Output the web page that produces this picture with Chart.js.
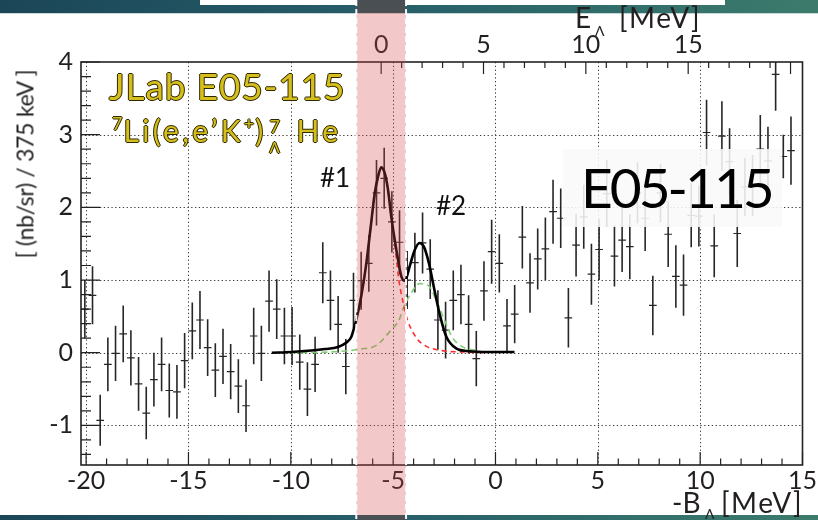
<!DOCTYPE html>
<html>
<head>
<meta charset="utf-8">
<script src="https://cdn.jsdelivr.net/npm/chart.js@4/dist/chart.umd.min.js"></script>
<style>
  html, body { margin: 0; padding: 0; background: #fff; }
  #wrap { position: relative; width: 818px; height: 520px; overflow: hidden;
          font-family: Lato, "Open Sans", sans-serif; color: #231f20; }
  #chart { position: absolute; left: 0; top: 0; z-index: 1; }
  .txt { position: absolute; line-height: 1; white-space: nowrap; z-index: 2; }
  #exp { left: 109px; top: 67px; font-size: 37px; letter-spacing: 0.9px; color: #d6bf1c;
         text-shadow: -1px 0 #2e2800, 1px 0 #2e2800, 0 -1px #2e2800, 0 1px #2e2800; }
  #reaction { left: 112px; top: 112px; font-size: 30px; letter-spacing: 3.3px; color: #d6bf1c;
         text-shadow: -1px 0 #2e2800, 1px 0 #2e2800, 0 -1px #2e2800, 0 1px #2e2800; }
  #reaction .sup { font-size: 18px; position: relative; top: -12px; letter-spacing: 1px; }
  #reaction .stack { display: inline-block; position: relative; width: 19px; height: 30px; }
  #reaction .up { position: absolute; left: 3px; top: 5px; font-size: 18px; line-height: 1; }
  #reaction .dn { position: absolute; left: 3px; top: 28px; font-size: 15px; line-height: 1; }
  #p1 { left: 320px; top: 164px; font-size: 26px; color: #111; }
  #p2 { left: 436px; top: 192px; font-size: 26px; color: #111; }
  #label { position: absolute; left: 563px; top: 149px; width: 219px; height: 78px; z-index: 2;
           background: rgba(249,249,249,0.88); }
  #label span { position: absolute; left: 18px; top: 11px; font-size: 55px; line-height: 1;
                letter-spacing: -3px; color: #000; }
  #ytitle { left: 25px; top: 164px; font-size: 23px; letter-spacing: -0.3px;
            transform: translate(-50%, -50%) rotate(-90deg); }
  #eTitle { left: 575px; top: 3px; font-size: 28px; }
  #eSub { left: 595px; top: 24px; font-size: 14px; }
  #eUnit { left: 619px; top: 3px; font-size: 28px; letter-spacing: 1.5px; }
  #bTitle { left: 672px; top: 488px; font-size: 28px; }
  #bSub { left: 705px; top: 507px; font-size: 14px; z-index: 1; }
  #bUnit { left: 721px; top: 488px; font-size: 28px; letter-spacing: 1.5px; }
</style>
</head>
<body>
<div id="wrap">
  <canvas id="chart" width="818" height="520"></canvas>
  <div class="txt" id="exp">JLab E05-115</div>
  <div class="txt" id="reaction"><span class="sup">7</span>Li(e,e’K<span class="sup">+</span>)<span class="stack"><span class="up">7</span><span class="dn">Λ</span></span> He</div>
  <div class="txt" id="p1">#1</div>
  <div class="txt" id="p2">#2</div>
  <div id="label"><span>E05-115</span></div>
  <div class="txt" id="ytitle">[ (nb/sr) / 375 keV ]</div>
  <div class="txt" id="eTitle">E</div>
  <div class="txt" id="eSub">Λ</div>
  <div class="txt" id="eUnit">[MeV]</div>
  <div class="txt" id="bTitle">-B</div>
  <div class="txt" id="bSub">Λ</div>
  <div class="txt" id="bUnit">[MeV]</div>
</div>
<script>
// Binding energy bins (-B_Lambda, MeV), 375 keV wide
const binCenters = [-20.0625,-19.6875,-19.3125,-18.9375,-18.5625,-18.1875,-17.8125,-17.4375,-17.0625,-16.6875,
  -16.3125,-15.9375,-15.5625,-15.1875,-14.8125,-14.4375,-14.0625,-13.6875,-13.3125,-12.9375,
  -12.5625,-12.1875,-11.8125,-11.4375,-11.0625,-10.6875,-10.3125,-9.9375,-9.5625,-9.1875,
  -8.8125,-8.4375,-8.0625,-7.6875,-7.3125,-6.9375,-6.5625,-6.1875,-5.8125,-5.4375,
  -5.0625,-4.6875,-4.3125,-3.9375,-3.5625,-3.1875,-2.8125,-2.4375,-2.0625,-1.6875,
  -1.3125,-0.9375,-0.5625,-0.1875,0.1875,0.5625,0.9375,1.3125,1.6875,2.0625,
  2.4375,2.8125,3.1875,3.5625,3.9375,4.3125,4.6875,5.0625,5.4375,5.8125,
  6.1875,6.5625,6.9375,7.3125,7.6875,8.0625,8.4375,8.8125,9.1875,9.5625,
  9.9375,10.3125,10.6875,11.0625,11.4375,11.8125,12.1875,12.5625,12.9375,13.3125,
  13.6875,14.0625,14.4375];
const binHalfWidth = 0.1875;

// Cross section per bin, nb/sr / 375 keV
const yields = [0.60,0.79,-0.93,-0.16,-0.01,0.26,-0.07,-0.43,-0.83,-0.37,
  -0.16,-0.52,-0.54,-0.11,0.30,0.45,0.07,-0.24,-0.05,-0.26,
  -0.46,-0.73,0.23,-0.01,0.71,0.60,0.23,0.23,-0.13,-0.50,
  -0.16,1.10,0.72,0.39,-0.19,0.72,0.99,1.23,2.20,2.40,
  1.80,1.52,1.00,1.24,1.51,1.15,0.45,0.31,0.72,0.80,
  0.39,-0.08,0.85,1.39,1.23,0.37,0.53,1.59,0.96,1.29,
  1.43,1.94,1.85,0.48,1.48,1.87,1.08,1.42,2.19,1.33,
  1.55,1.46,2.20,1.85,0.65,2.20,1.63,1.05,0.93,1.89,
  1.88,3.03,1.47,2.98,2.63,1.64,2.28,2.30,2.80,2.64,
  3.83,2.70,2.78];

// Statistical errors
const errors = [0.40,0.40,0.35,0.37,0.38,0.39,0.38,0.37,0.36,0.37,
  0.37,0.37,0.37,0.38,0.39,0.40,0.39,0.37,0.38,0.38,
  0.37,0.36,0.39,0.38,0.42,0.41,0.39,0.40,0.38,0.37,
  0.38,0.42,0.41,0.39,0.38,0.38,0.40,0.39,0.45,0.42,
  0.42,0.44,0.40,0.41,0.42,0.41,0.41,0.39,0.41,0.41,
  0.40,0.38,0.41,0.44,0.40,0.37,0.40,0.43,0.41,0.42,
  0.43,0.44,0.41,0.41,0.43,0.44,0.42,0.42,0.46,0.42,
  0.44,0.45,0.42,0.45,0.41,0.40,0.45,0.43,0.42,0.44,
  0.42,0.45,0.43,0.48,0.46,0.46,0.40,0.42,0.47,0.47,
  0.50,0.30,0.47];

// Total fit
const fitX = [-10.93,-9.97,-9.0,-8.34,-7.69,-7.28,-7.04,-6.91,-6.8,-6.55,-6.31,-6.1,-5.9,-5.74,-5.58,-5.41,-5.25,-5.09,-4.84,-4.6,-4.44,-4.36,-4.2,-3.95,-3.71,-3.5,-3.25,-2.98,-2.7,-2.4,-1.92,-1.27,-0.45,0.93];
const fitY = [0.0,0.01,0.03,0.05,0.08,0.14,0.22,0.34,0.45,0.79,1.23,1.72,2.19,2.42,2.55,2.47,2.24,1.87,1.41,1.05,0.99,1.02,1.18,1.41,1.51,1.46,1.23,0.86,0.5,0.22,0.06,0.02,0.01,0.01];

// Peak #1 component
const peak1X = [-6.8,-6.55,-6.31,-6.1,-5.9,-5.74,-5.58,-5.41,-5.25,-5.09,-4.9,-4.72,-4.52,-4.3,-4.07,-3.8,-3.4,-3.0,-2.4,-1.6,-0.5];
const peak1Y = [0.45,0.79,1.23,1.72,2.19,2.42,2.55,2.47,2.24,1.87,1.45,1.0,0.7,0.45,0.3,0.18,0.09,0.05,0.02,0.01,0.0];

// Peak #2 component
const peak2X = [-9.97,-8.1,-7.12,-6.63,-5.82,-5.17,-4.68,-4.52,-4.03,-3.71,-3.3,-2.89,-2.57,-2.08,-1.6,-0.94,-0.6];
const peak2Y = [0.0,0.01,0.03,0.05,0.1,0.29,0.47,0.6,0.86,0.95,0.93,0.72,0.5,0.2,0.08,0.03,0.01];

// Axis ticks
const bottomTicks = [-20, -15, -10, -5, 0, 5, 10, 15];
const topTicks = [0, 5, 10, 15];
const leftTicks = [-1, 0, 1, 2, 3, 4];
const eShift = 5.585;          // E_Lambda = -B_Lambda + eShift
const gateRange = [-6.8, -4.37]; // highlighted region in -B_Lambda

const xRange = [-20.25, 15];
const yRange = [-1.545, 4];

function pts(xs, ys) { return xs.map((v, i) => ({ x: v, y: ys[i] })); }

const axisFrame = {
  id: 'axisFrame',
  beforeDraw(chart) {
    const { ctx } = chart;
    ctx.save();
    const g = ctx.createLinearGradient(0, 0, 818, 0);
    g.addColorStop(0, '#1b4658');
    g.addColorStop(0.5, '#27606a');
    g.addColorStop(1, '#3c7b6c');
    ctx.fillStyle = g;
    ctx.fillRect(0, 0, 818, 13);
    ctx.fillRect(0, 515, 818, 5);
    ctx.fillStyle = '#c9d6d6';
    ctx.fillRect(0, 13, 818, 1);
    ctx.fillStyle = '#ffffff';
    ctx.fillRect(200, 0, 525, 5);
    ctx.restore();
  },
  beforeDatasetsDraw(chart) {
    const { ctx, chartArea: a, scales: { x, y } } = chart;
    ctx.save();
    ctx.beginPath();
    ctx.rect(a.left, a.top, a.right - a.left, a.bottom - a.top);
    ctx.clip();
    // dotted grid
    ctx.strokeStyle = '#3a3a3a';
    ctx.lineWidth = 1;
    ctx.setLineDash([1.3, 2.5]);
    ctx.beginPath();
    bottomTicks.forEach(v => {
      if (v >= xRange[1]) return;
      const p = Math.round(x.getPixelForValue(v)) + 0.5;
      ctx.moveTo(p, a.top); ctx.lineTo(p, a.bottom);
    });
    leftTicks.forEach(v => {
      if (v >= yRange[1]) return;
      const p = Math.round(y.getPixelForValue(v)) + 0.5;
      ctx.moveTo(a.left, p); ctx.lineTo(a.right, p);
    });
    ctx.stroke();
    ctx.setLineDash([]);
    // error bars with bin-width markers
    ctx.strokeStyle = '#262626';
    binCenters.forEach((c, i) => {
      const px = x.getPixelForValue(c);
      ctx.lineWidth = 1.6;
      ctx.beginPath();
      ctx.moveTo(px, y.getPixelForValue(yields[i] - errors[i]));
      ctx.lineTo(px, y.getPixelForValue(yields[i] + errors[i]));
      ctx.stroke();
      const py = y.getPixelForValue(yields[i]);
      ctx.lineWidth = 1.2;
      ctx.beginPath();
      ctx.moveTo(x.getPixelForValue(c - binHalfWidth), py);
      ctx.lineTo(x.getPixelForValue(c + binHalfWidth), py);
      ctx.stroke();
    });
    ctx.restore();
  },
  afterDatasetsDraw(chart) {
    const { ctx, chartArea: a, scales: { x, y, xTop } } = chart;
    ctx.save();
    ctx.strokeStyle = '#222';
    ctx.lineWidth = 1.2;
    ctx.beginPath();
    for (let v = -20; v <= 15; v++) {
      const p = x.getPixelForValue(v);
      const len = v % 5 === 0 ? 13 : 6.5;
      ctx.moveTo(p, a.bottom); ctx.lineTo(p, a.bottom - len);
    }
    for (let e = 0; e <= 20; e++) {
      const p = xTop.getPixelForValue(e);
      if (p > a.right) break;
      const len = e % 5 === 0 ? 12 : 6;
      ctx.moveTo(p, a.top); ctx.lineTo(p, a.top + len);
    }
    for (let k = -7; k <= 20; k++) {
      const v = k / 5;
      const p = y.getPixelForValue(v);
      const len = k % 5 === 0 ? 19 : 10;
      ctx.moveTo(a.left, p); ctx.lineTo(a.left + len, p);
    }
    ctx.stroke();
    ctx.lineWidth = 1.6;
    ctx.strokeRect(a.left, a.top, a.right - a.left, a.bottom - a.top);
    ctx.restore();
  },
  afterDraw(chart) {
    const { ctx, scales: { x } } = chart;
    const x0 = x.getPixelForValue(gateRange[0]);
    const x1 = x.getPixelForValue(gateRange[1]);
    ctx.save();
    ctx.fillStyle = '#4a4f54';
    ctx.fillRect(x0, 0, x1 - x0, 13);
    ctx.fillRect(x0, 515, x1 - x0, 5);
    ctx.fillStyle = 'rgba(214,72,72,0.3)';
    ctx.fillRect(x0, 13, x1 - x0, 502);
    ctx.strokeStyle = 'rgba(255,255,255,0.95)';
    ctx.lineWidth = 2;
    ctx.setLineDash([6, 3]);
    ctx.beginPath();
    ctx.moveTo(x0, 0); ctx.lineTo(x0, 520);
    ctx.moveTo(x1, 0); ctx.lineTo(x1, 520);
    ctx.stroke();
    ctx.restore();
  }
};

const tickFont = { family: 'Lato', size: 25 };

new Chart(document.getElementById('chart'), {
  type: 'scatter',
  data: {
    datasets: [
      { label: 'data', data: pts(binCenters, yields), pointRadius: 0, showLine: false },
      { label: 'fit', data: pts(fitX, fitY), showLine: true, borderColor: '#000', borderWidth: 2.6,
        pointRadius: 0, cubicInterpolationMode: 'monotone', fill: false },
      { label: 'peak1', data: pts(peak1X, peak1Y), showLine: true, borderColor: '#ff2b2b', borderWidth: 1.6,
        borderDash: [5, 4], pointRadius: 0, cubicInterpolationMode: 'monotone', fill: false },
      { label: 'peak2', data: pts(peak2X, peak2Y), showLine: true, borderColor: '#7fcf72', borderWidth: 1.6,
        borderDash: [6, 4], pointRadius: 0, cubicInterpolationMode: 'monotone', fill: false }
    ]
  },
  options: {
    responsive: false,
    animation: false,
    devicePixelRatio: 1,
    events: [],
    layout: { padding: { left: 0, right: 15, top: 0, bottom: 0 } },
    plugins: { legend: { display: false }, tooltip: { enabled: false } },
    scales: {
      x: {
        type: 'linear', position: 'bottom', min: xRange[0], max: xRange[1],
        grid: { display: false, drawTicks: false }, border: { display: false },
        afterBuildTicks: s => { s.ticks = bottomTicks.map(v => ({ value: v })); },
        afterFit: s => { s.height = 55; },
        ticks: { font: tickFont, color: '#231f20', padding: 1, maxRotation: 0, autoSkip: false,
                 callback: v => String(v) }
      },
      xTop: {
        type: 'linear', position: 'top', min: xRange[0] + eShift, max: xRange[1] + eShift,
        grid: { display: false, drawTicks: false }, border: { display: false },
        afterBuildTicks: s => { s.ticks = topTicks.map(v => ({ value: v })); },
        afterFit: s => { s.height = 62; },
        ticks: { font: tickFont, color: '#231f20', padding: 2, maxRotation: 0, autoSkip: false,
                 callback: v => String(v) }
      },
      y: {
        type: 'linear', position: 'left', min: yRange[0], max: yRange[1],
        grid: { display: false, drawTicks: false }, border: { display: false },
        afterBuildTicks: s => { s.ticks = leftTicks.map(v => ({ value: v })); },
        afterFit: s => { s.width = 81; },
        ticks: { font: tickFont, color: '#231f20', padding: 8, autoSkip: false,
                 callback: v => String(v) }
      }
    }
  },
  plugins: [axisFrame]
});
</script>
</body>
</html>
